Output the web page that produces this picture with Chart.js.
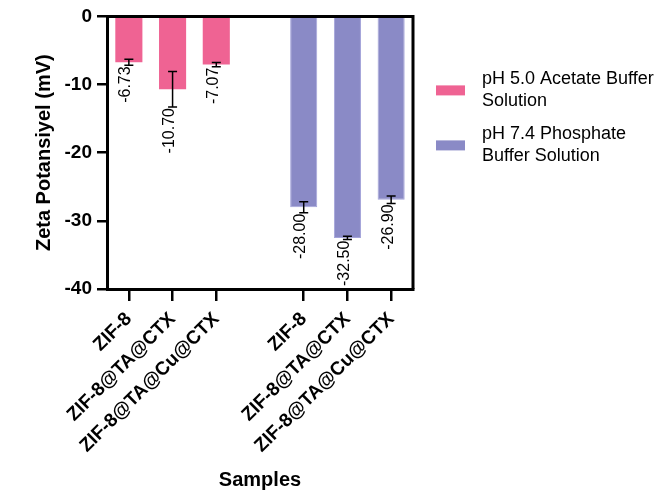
<html>
    <head>
        <script src="https://cdn.jsdelivr.net/npm/chart.js@4.4.1/dist/chart.umd.min.js"></script>
        <style>
            body { margin: 0; background: #fff; }
            #wrap { width: 663px; height: 492px; }
        </style>
    </head>
    <body>
        <div id="wrap"><canvas id="myChart"></canvas></div>

        <script>
            // samples (empty slot = gap between the two buffer groups)
            var labels = ['ZIF-8', 'ZIF-8@TA@CTX', 'ZIF-8@TA@Cu@CTX', '', 'ZIF-8', 'ZIF-8@TA@CTX', 'ZIF-8@TA@Cu@CTX'];
            var acetate = [-6.73, -10.70, -7.07, null, null, null, null];
            var acetateErr = [0.45, 2.6, 0.3, null, null, null, null];
            var phosphate = [null, null, null, null, -28.00, -32.50, -26.90];
            var phosphateErr = [null, null, null, null, 0.8, 0.25, 0.55];
            var yTicks = [0, -10, -20, -30, -40];
            var legendLines = [['pH 5.0 Acetate Buffer', 'Solution'], ['pH 7.4 Phosphate', 'Buffer Solution']];

            var FONT = 'Arial, "Liberation Sans", Helvetica, sans-serif';
            Chart.defaults.color = '#000';
            Chart.defaults.font.family = FONT;

            var errorBars = {
                id: 'errorBars',
                afterDatasetsDraw: function(chart) {
                    var ctx = chart.ctx;
                    var y = chart.scales.y;
                    ctx.save();
                    chart.data.datasets.forEach(function(ds, i) {
                        var meta = chart.getDatasetMeta(i);
                        meta.data.forEach(function(bar, j) {
                            var v = ds.data[j];
                            if (v === null) return;
                            var e = ds.errors[j];
                            var top = y.getPixelForValue(v + e);
                            var bot = y.getPixelForValue(v - e);
                            ctx.strokeStyle = '#000';
                            ctx.lineWidth = 1.5;
                            ctx.beginPath();
                            ctx.moveTo(bar.x, top); ctx.lineTo(bar.x, bot);
                            ctx.moveTo(bar.x - 4.5, top); ctx.lineTo(bar.x + 4.5, top);
                            ctx.moveTo(bar.x - 4.5, bot); ctx.lineTo(bar.x + 4.5, bot);
                            ctx.stroke();
                            // value label, vertical
                            ctx.save();
                            ctx.translate(bar.x - 3, bot + 1);
                            ctx.rotate(-Math.PI / 2);
                            ctx.fillStyle = '#000';
                            ctx.font = '16px ' + FONT;
                            ctx.textAlign = 'right';
                            ctx.textBaseline = 'middle';
                            ctx.fillText(v.toFixed(2), 0, 0);
                            ctx.restore();
                        });
                    });
                    ctx.restore();
                }
            };

            var frameAndLegend = {
                id: 'frameAndLegend',
                afterDraw: function(chart) {
                    var ctx = chart.ctx;
                    var a = chart.chartArea;
                    ctx.save();
                    ctx.strokeStyle = '#000';
                    ctx.lineWidth = 3;
                    ctx.beginPath();
                    ctx.moveTo(a.left, a.top); ctx.lineTo(a.right, a.top);
                    ctx.lineTo(a.right, a.bottom);
                    ctx.stroke();

                    ctx.font = '18px ' + FONT;
                    ctx.textBaseline = 'middle';
                    ctx.textAlign = 'left';
                    chart.data.datasets.forEach(function(ds, i) {
                        var cy = a.top + 74 + i * 55;
                        ctx.fillStyle = ds.backgroundColor;
                        ctx.fillRect(a.right + 23, cy - 5, 29, 10);
                        ctx.fillStyle = '#000';
                        legendLines[i].forEach(function(line, k) {
                            ctx.fillText(line, a.right + 69, cy - 11 + k * 22);
                        });
                    });
                    ctx.restore();
                }
            };

            var ctx = document.getElementById('myChart').getContext('2d');
            var chart = new Chart(ctx, {
                type: 'bar',
                data: {
                    labels: labels,
                    datasets: [{
                        label: legendLines[0].join(' '),
                        data: acetate,
                        errors: acetateErr,
                        backgroundColor: '#EF6393',
                        grouped: false,
                        barPercentage: 0.62,
                        categoryPercentage: 1
                    }, {
                        label: legendLines[1].join(' '),
                        data: phosphate,
                        errors: phosphateErr,
                        backgroundColor: '#8A8AC6',
                        borderColor: '#A4A4DA',
                        borderWidth: 1,
                        grouped: false,
                        barPercentage: 0.62,
                        categoryPercentage: 1
                    }]
                },
                options: {
                    responsive: true,
                    maintainAspectRatio: false,
                    animation: false,
                    layout: { padding: { left: 0, right: 250, top: 14, bottom: 0 } },
                    plugins: {
                        legend: { display: false },
                        tooltip: { enabled: false }
                    },
                    scales: {
                        x: {
                            type: 'category',
                            offset: true,
                            afterFit: function(s) { s.height = 203; },
                            grid: {
                                offset: false,
                                drawOnChartArea: false,
                                tickLength: 12,
                                lineWidth: 2.5,
                                color: function(c) { return c.tick && c.tick.label === '' ? 'rgba(0,0,0,0)' : '#000'; }
                            },
                            border: { color: '#000', width: 3 },
                            ticks: {
                                autoSkip: false,
                                maxRotation: 45,
                                minRotation: 45,
                                padding: 7,
                                font: { size: 19, weight: 'bold' }
                            },
                            title: {
                                display: true,
                                text: 'Samples',
                                font: { size: 20, weight: 'bold' },
                                padding: { top: 0, bottom: 0 }
                            }
                        },
                        y: {
                            min: -40,
                            max: 0,
                            afterFit: function(s) { s.width = 107; },
                            afterBuildTicks: function(s) { s.ticks = yTicks.map(function(v) { return { value: v }; }); },
                            grid: {
                                drawOnChartArea: false,
                                tickLength: 10,
                                lineWidth: 2.5,
                                color: '#000'
                            },
                            border: { color: '#000', width: 3 },
                            ticks: {
                                padding: 5,
                                font: { size: 19, weight: 'bold' }
                            },
                            title: {
                                display: true,
                                text: 'Zeta Potansiyel (mV)',
                                font: { size: 20, weight: 'bold' },
                                padding: { top: 32, bottom: 0 }
                            }
                        }
                    }
                },
                plugins: [errorBars, frameAndLegend]
            });
        </script>
    </body>
</html>
